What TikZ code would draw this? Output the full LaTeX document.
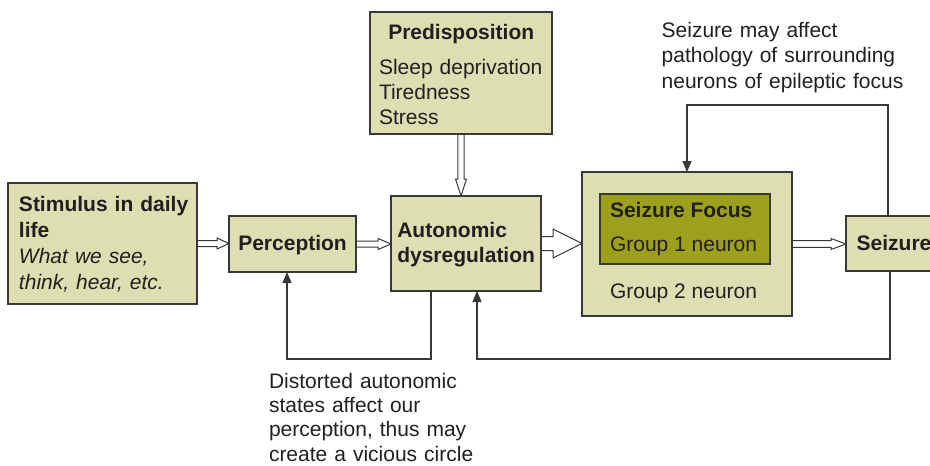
\documentclass[tikz,border=0pt]{standalone}
\usepackage{fontspec}
\setmainfont{Liberation Sans}
\usetikzlibrary{calc,arrows.meta,shadows}

\definecolor{boxfill}{HTML}{DDDEB1}
\definecolor{focusfill}{HTML}{9DA01A}
\definecolor{ink}{HTML}{231F20}
\definecolor{edge}{HTML}{383838}

\pgfdeclarelayer{background}
\pgfsetlayers{background,main}

\tikzset{
  box/.style={draw=edge, line width=1.3pt, fill=boxfill, inner sep=0pt, outer sep=0pt, anchor=north west,
    drop shadow={shadow xshift=1.3pt, shadow yshift=-1.3pt, fill=black!45, opacity=1}},
  txt/.style={anchor=base west, inner sep=0pt, outer sep=0pt, text=ink, align=left},
  hollow/.style={draw=edge, line width=1pt, fill=white, line join=miter},
  fb/.style={draw=edge, line width=1.2pt, line join=miter, -{Triangle[length=11pt,width=9pt]}},
}

% open double-line arrow pointing right: from, to, shaft half width, head half width, head length
\newcommand\hollowright[5]{%
  \path[hollow] let \p1=(#1), \p2=(#2) in
    (\x1,\y1+#3pt) -- (\x2-#5pt,\y1+#3pt) -- (\x2-#5pt,\y1+#4pt) -- (\x2,\y1)
    -- (\x2-#5pt,\y1-#4pt) -- (\x2-#5pt,\y1-#3pt) -- (\x1,\y1-#3pt);}
% open double-line arrow pointing down
\newcommand\hollowdown[5]{%
  \path[hollow] let \p1=(#1), \p2=(#2) in
    (\x1+#3pt,\y1) -- (\x1+#3pt,\y2+#5pt) -- (\x1+#4pt,\y2+#5pt) -- (\x1,\y2)
    -- (\x1-#4pt,\y2+#5pt) -- (\x1-#3pt,\y2+#5pt) -- (\x1-#3pt,\y1);}

\begin{document}
\begin{tikzpicture}[x=1pt, y=-1pt, font=\fontsize{21}{25}\selectfont]
  \useasboundingbox (0,0) rectangle (930,466);
  \clip (0,0) rectangle (930,466);

  % boxes
  \node[box, minimum width=189pt, minimum height=121pt] (stim)  at (8,183)   {};
  \node[box, minimum width=127pt, minimum height=56pt]  (perc)  at (229,216) {};
  \node[box, minimum width=150pt, minimum height=95pt]  (auto)  at (391,196) {};
  \node[box, minimum width=182pt, minimum height=122pt] (pred)  at (370,12)  {};
  \node[box, minimum width=210pt, minimum height=144pt] (focus) at (582,172) {};
  \node[box, fill=focusfill, minimum width=170pt, minimum height=70pt] (group1) at (600,194) {};
  \node[box, minimum width=110pt, minimum height=55pt]  (seiz)  at (846,216) {};

  % box texts
  \node[txt, text width=178pt, font=\fontsize{21}{26}\selectfont] (stimtext) at (19,211.5)
    {\textbf{Stimulus in daily}\\\textbf{life}\\\textit{What we see,}\\\textit{think, hear, etc.}};
  \node[txt] (perctext) at (238.3,250.5) {\textbf{Perception}};
  \node[txt, text width=142pt] (autotext) at (397.3,237.2) {\textbf{Autonomic}\\\textbf{dysregulation}};
  \node[txt] (predhead) at (388.3,39.8) {\textbf{Predisposition}};
  \node[txt, text width=170pt] (predlist) at (379,74.5) {Sleep deprivation\\Tiredness\\Stress};
  \node[txt] (focushead) at (610,217.2) {\textbf{Seizure Focus}};
  \node[txt] (group1text) at (610,251.5) {Group 1 neuron};
  \node[txt] (group2text) at (610,298.8) {Group 2 neuron};
  \node[txt] (seiztext) at (856.7,250.5) {\textbf{Seizure}};

  % notes
  \node[txt, text width=260pt, font=\fontsize{21}{25.5}\selectfont] (noteseizure) at (661.7,37)
    {Seizure may affect\\pathology of surrounding\\neurons of epileptic focus};
  \node[txt, text width=220pt, font=\fontsize{21}{24.2}\selectfont] (notecircle) at (269,388.5)
    {Distorted autonomic\\states affect our\\perception, thus may\\create a vicious circle};

  % forward flow
  \begin{pgfonlayer}{background}
    \hollowright{stim.east}{perc.west}{3}{5.5}{12}
    \hollowright{perc.east}{auto.west}{3}{5.5}{13}
    \hollowdown{pred.south}{auto.north}{3.2}{5.5}{17}
    \hollowright{auto.east}{focus.west}{7}{14.5}{29}
    \hollowright{focus.east}{seiz.west}{3.3}{5.5}{15}
  \end{pgfonlayer}

  % feedback loops
  \coordinate (a1) at (431,359);
  \coordinate (a2) at (287,359);
  \draw[fb] (auto.south -| a1) -- (a1) -- (a2) -- (perc.south -| a2);

  \coordinate (b1) at (890,359);
  \coordinate (b2) at (477,359);
  \draw[fb] (seiz.south -| b1) -- (b1) -- (b2) -- (auto.south -| b2);

  \coordinate (c1) at (888,105);
  \coordinate (c2) at (687,105);
  \draw[fb] (seiz.north -| c1) -- (c1) -- (c2) -- (focus.north -| c2);
\end{tikzpicture}
\end{document}
